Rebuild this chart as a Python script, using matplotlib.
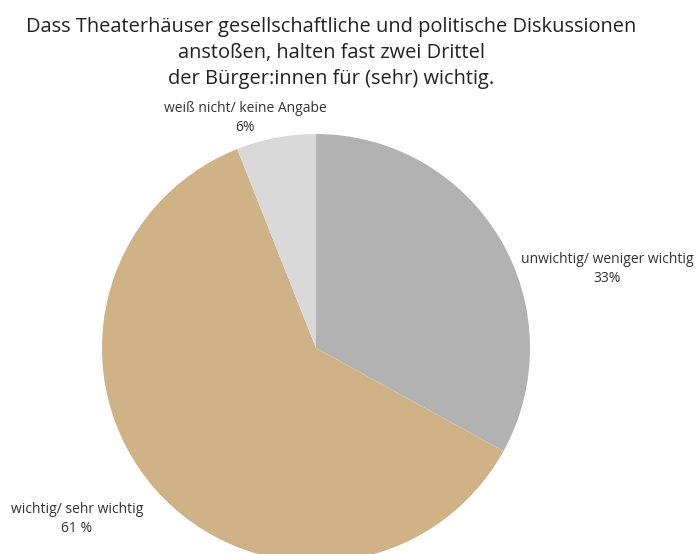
import matplotlib.pyplot as plt

plt.rcParams['font.family'] = ['Open Sans', 'DejaVu Sans']

labels = ["unwichtig/ weniger wichtig", "wichtig/ sehr wichtig", "weiß nicht/ keine Angabe"]
values = [33, 61, 6]
pct_text = ["33%", "61 %", "6%"]
colors = ["#b2b2b2", "#cfb386", "#d9d9d9"]

title_lines = ["Dass Theaterhäuser gesellschaftliche und politische Diskussionen",
               "anstoßen, halten fast zwei Drittel",
               "der Bürger:innen für (sehr) wichtig."]

W, H = 697, 554
fig = plt.figure(figsize=(W / 100, H / 100), dpi=100)

# pie placed by pixel centre and radius
cx, cy, r = 316, 348, 214
ax = fig.add_axes([(cx - r) / W, (H - cy - r) / H, 2 * r / W, 2 * r / H])
ax.pie(values, colors=colors, startangle=90, counterclock=False, radius=1,
       wedgeprops=dict(linewidth=0))
ax.set_xlim(-1, 1)
ax.set_ylim(-1, 1)
ax.set_aspect('auto')
ax.axis('off')

# title, one line at a time
for line, y in zip(title_lines, [27, 53, 79]):
    fig.text(331 / W, 1 - y / H, line, ha='center', va='center', fontsize=14.4,
             color='#222222')

# label positions (pixel centres of the two-line labels)
label_pos = [(607, 269), (77, 519), (245, 118)]
for lab, pct, (x, y) in zip(labels, pct_text, label_pos):
    fig.text(x / W, 1 - y / H, lab + "\n" + pct, ha='center', va='center',
             fontsize=10, color='#333333', linespacing=1.35)

fig.savefig("out.png", dpi=100)
